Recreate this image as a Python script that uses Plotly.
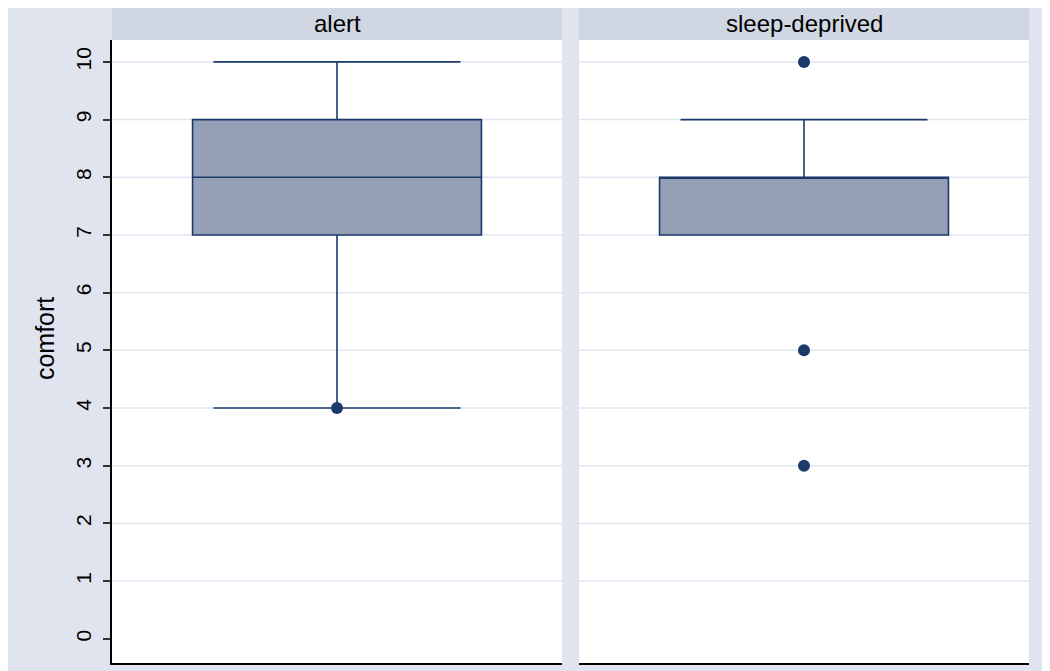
import plotly.graph_objects as go
from plotly.subplots import make_subplots

groups = ["alert", "sleep-deprived"]
q1 = [7, 7]
median = [8, 8]
q3 = [9, 8]
lower_fence = [4, 7]
upper_fence = [10, 9]
outliers = [[4], [10, 5, 3]]
y_ticks = [0, 1, 2, 3, 4, 5, 6, 7, 8, 9, 10]
grid_vals = [1, 2, 3, 4, 5, 6, 7, 8, 9, 10]
y_title = "comfort"

W, H = 1050, 671
ml, mr, mt, mb = 104, 29, 32, 16
pw = W - ml - mr
ph = H - mt - mb
panel_w = 450
gap = 17

bg = "#e0e4ef"
strip = "#d0d7e3"
gridc = "#e2e6f0"
line_c = "#1b3a6b"
fill_c = "#95a0b6"
font_fam = "Liberation Sans, Arial"

fig = make_subplots(rows=1, cols=2, shared_yaxes=True, horizontal_spacing=gap / pw)
d1 = [0, panel_w / pw]
d2 = [(panel_w + gap) / pw, 1]

for i, g in enumerate(groups):
    col = i + 1
    fig.add_trace(go.Box(
        x=[0], q1=[q1[i]], median=[median[i]], q3=[q3[i]],
        lowerfence=[lower_fence[i]], upperfence=[upper_fence[i]],
        boxpoints=False, width=0.642, whiskerwidth=0.855,
        fillcolor=fill_c, line=dict(color=line_c, width=1.6),
        name=g, showlegend=False, hoverinfo="skip"),
        row=1, col=col)
    fig.add_trace(go.Scatter(
        x=[0] * len(outliers[i]), y=outliers[i], mode="markers",
        marker=dict(color=line_c, size=12), showlegend=False),
        row=1, col=col)
    xa = "x" if col == 1 else "x2"
    ya = "y" if col == 1 else "y2"
    for gv in grid_vals:
        fig.add_shape(type="line", xref=f"{xa} domain", yref=ya,
                      x0=0, x1=1, y0=gv, y1=gv,
                      line=dict(color=gridc, width=1.5), layer="below")

fig.update_xaxes(range=[-0.5, 0.5], showticklabels=False, ticks="",
                 showgrid=False, zeroline=False, showline=True,
                 linecolor="black", linewidth=1.5)
fig.update_layout(xaxis=dict(domain=d1), xaxis2=dict(domain=d2))
fig.update_yaxes(range=[-0.42, 10.38], showgrid=False, zeroline=False)
fig.update_layout(yaxis=dict(
    tickvals=y_ticks, ticktext=[str(t) for t in y_ticks], tickangle=-90,
    ticks="outside", ticklen=7, tickcolor="#333", tickwidth=1.5,
    ticklabelstandoff=4,
    showline=True, linecolor="black", linewidth=1.5,
    tickfont=dict(family=font_fam, size=21, color="black")))
fig.update_layout(yaxis2=dict(showticklabels=False, ticks="", showline=False))

fig.add_annotation(x=-0.073, y=0.52, xref="paper", yref="paper",
                   text=y_title, showarrow=False, textangle=-90,
                   font=dict(family=font_fam, size=25, color="black"),
                   xanchor="center", yanchor="middle")

strip_h = 32 / ph
for dom, g in zip([d1, d2], groups):
    fig.add_shape(type="rect", xref="paper", yref="paper",
                  x0=dom[0], x1=dom[1], y0=1, y1=1 + strip_h,
                  fillcolor=strip, line=dict(width=0), layer="below")
    fig.add_annotation(x=(dom[0] + dom[1]) / 2, y=1 + strip_h / 2,
                       xref="paper", yref="paper", text=g, showarrow=False,
                       font=dict(family=font_fam, size=24, color="black"),
                       xanchor="center", yanchor="middle")

fig.update_layout(width=W, height=H, margin=dict(l=ml, r=mr, t=mt, b=mb),
                  paper_bgcolor=bg, plot_bgcolor="white")

fig.write_html("out.html")
